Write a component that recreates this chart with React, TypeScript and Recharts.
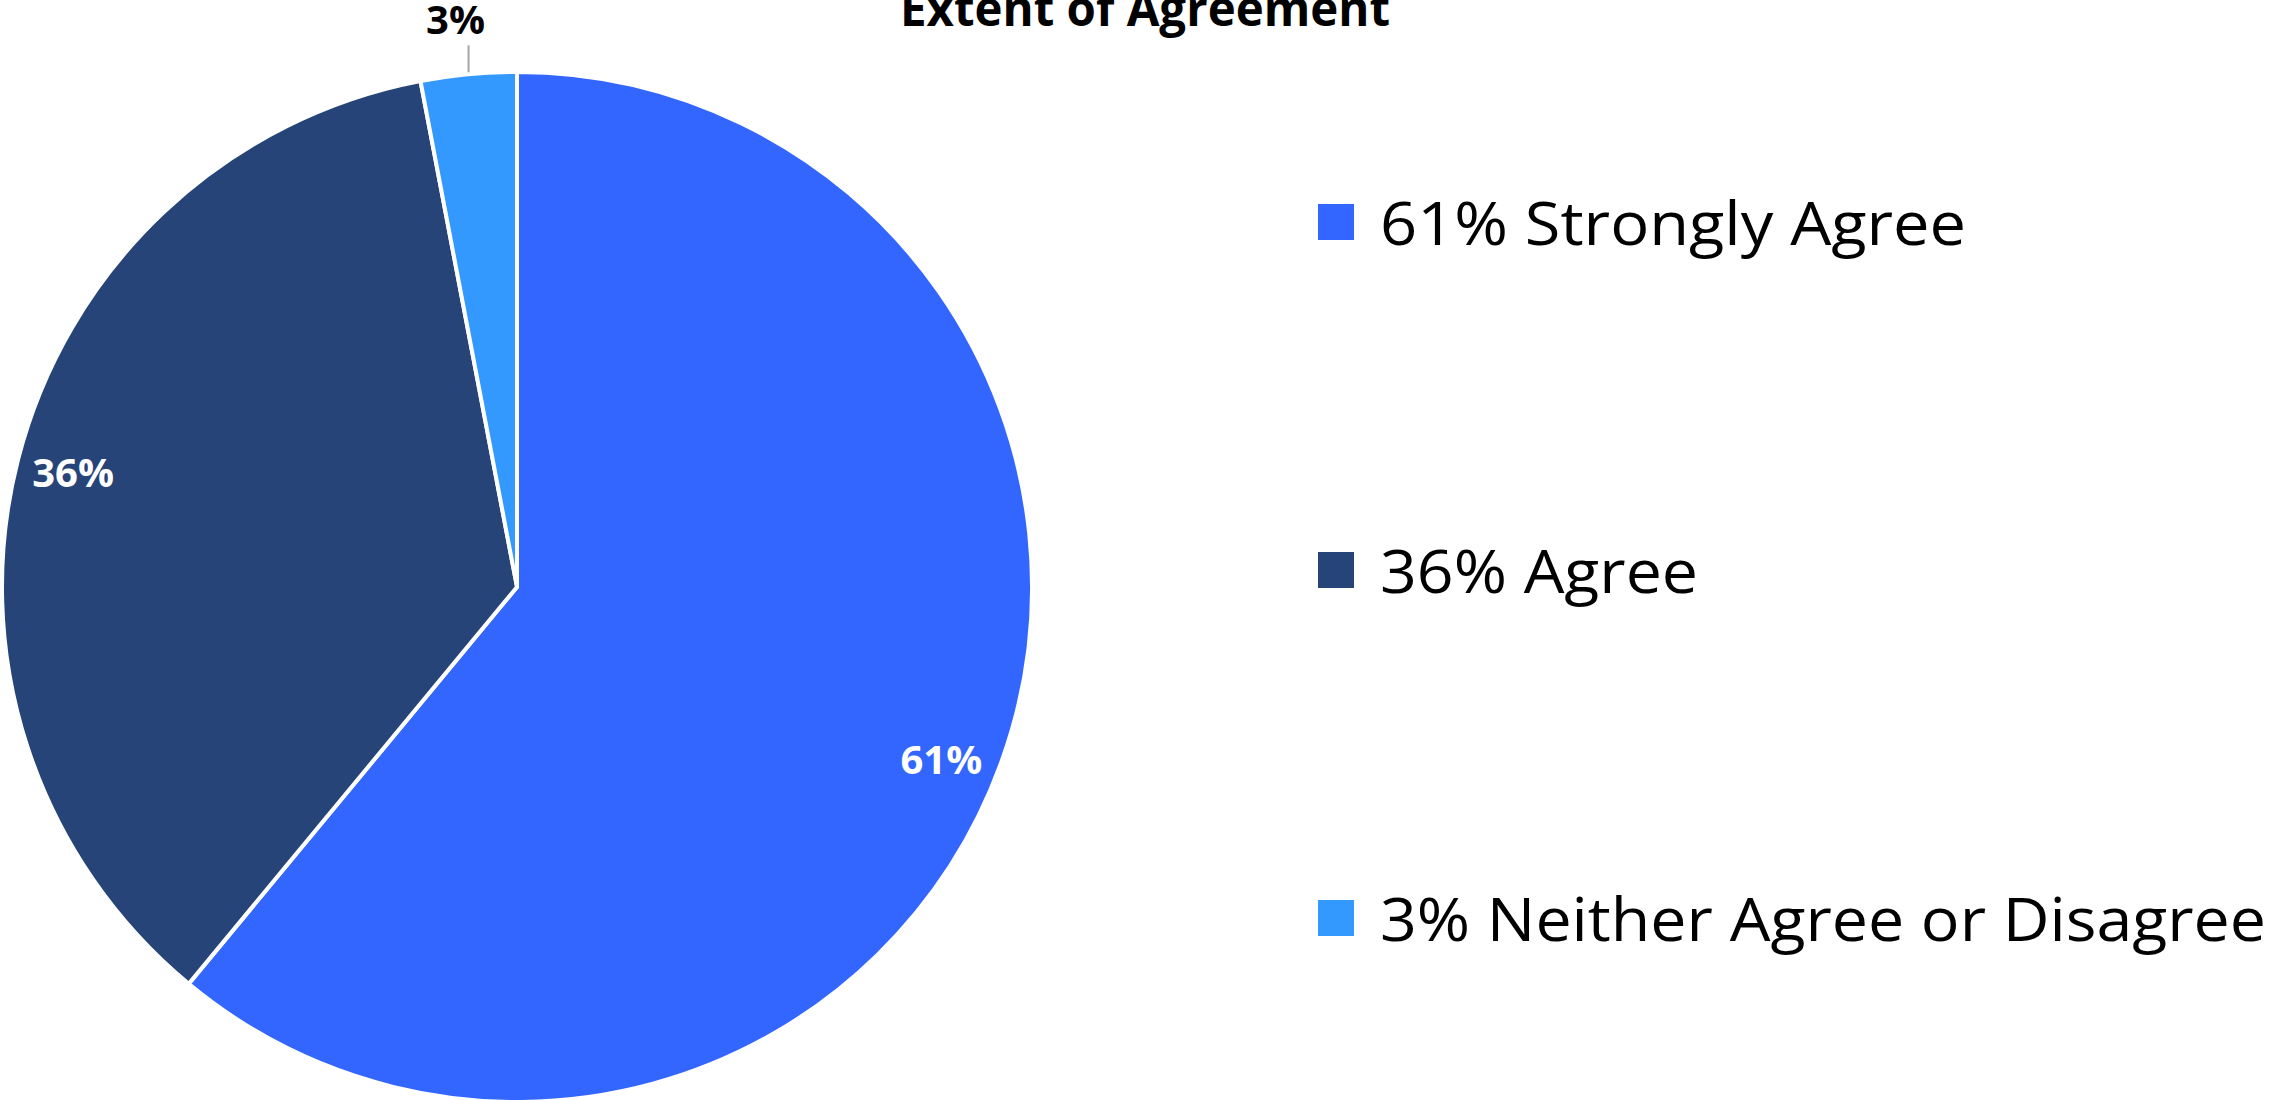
import { Legend, Pie, PieChart } from "recharts";

const categories = ["Strongly Agree", "Agree", "Neither Agree or Disagree"];
const shares = [61, 36, 3];
const sliceColors = ["#3366FF", "#264478", "#3399FF"];
const chartTitle = "Extent of Agreement";

const data = categories.map((name, i) => ({ name, value: shares[i], fill: sliceColors[i] }));

const RADIAN = Math.PI / 180;
const legendTextWidths = [586, 318, 886];

function renderLabel(props: any) {
  const { cx, cy, midAngle, outerRadius, index, value } = props;
  const text = `${value}%`;
  if (index === 2) {
    const ex = cx + outerRadius * Math.cos(-midAngle * RADIAN);
    const ey = cy + outerRadius * Math.sin(-midAngle * RADIAN);
    return (
      <text
        x={ex - 13}
        y={ey - 40}
        textAnchor="middle"
        fill="#000"
        fontFamily="'Open Sans', sans-serif"
        fontWeight={700}
        fontSize={40}
      >
        {text}
      </text>
    );
  }
  const angle = index === 0 ? midAngle - 2.4 : midAngle;
  const r = outerRadius * 0.89;
  const x = cx + r * Math.cos(-angle * RADIAN);
  const y = cy + r * Math.sin(-angle * RADIAN);
  return (
    <text
      x={x}
      y={y}
      dy={14}
      textAnchor="middle"
      fill="#fff"
      fontFamily="'Open Sans', sans-serif"
      fontWeight={700}
      fontSize={40}
    >
      {text}
    </text>
  );
}

function renderLabelLine(props: any) {
  const { cx, cy, midAngle, outerRadius, index } = props;
  if (index !== 2) return <g />;
  const x = cx + outerRadius * Math.cos(-midAngle * RADIAN);
  const y = cy + outerRadius * Math.sin(-midAngle * RADIAN);
  return <line x1={x} y1={y - 2} x2={x} y2={y - 29} stroke="#A6A6A6" strokeWidth={2} />;
}

function renderLegend(props: any) {
  const payload = props.payload ?? [];
  return (
    <svg width={975} height={800} style={{ display: "block" }}>
      {payload.map((entry: any, i: number) => (
        <g key={entry.value}>
          <rect x={18} y={24 + 348 * i} width={36} height={36} fill={sliceColors[i]} />
          <text
            x={80}
            y={65 + 348 * i}
            fill="#000"
            fontFamily="'Open Sans', sans-serif"
            fontSize={60}
            textLength={legendTextWidths[i]}
            lengthAdjust="spacingAndGlyphs"
          >
            {`${shares[i]}% ${categories[i]}`}
          </text>
        </g>
      ))}
    </svg>
  );
}

export default function App() {
  return (
    <div style={{ position: "absolute", left: 0, top: 0, width: 2275, height: 1100, background: "#fff" }}>
      <PieChart width={2275} height={1100} margin={{ top: 0, right: 0, bottom: 0, left: 0 }}>
        <text
          x={1145}
          y={26}
          textAnchor="middle"
          fill="#000"
          fontFamily="'Open Sans', sans-serif"
          fontWeight={700}
          fontSize={48}
          textLength={490}
          lengthAdjust="spacingAndGlyphs"
        >
          {chartTitle}
        </text>
        <Pie
          data={data}
          dataKey="value"
          nameKey="name"
          cx={517}
          cy={587}
          outerRadius={515}
          startAngle={90}
          endAngle={-270}
          stroke="#fff"
          strokeWidth={4}
          label={renderLabel}
          labelLine={renderLabelLine}
          isAnimationActive={false}
        />
        <Legend
          content={renderLegend}
          wrapperStyle={{ position: "absolute", left: 1300, top: 180, width: 975, height: 800 }}
        />
      </PieChart>
    </div>
  );
}
